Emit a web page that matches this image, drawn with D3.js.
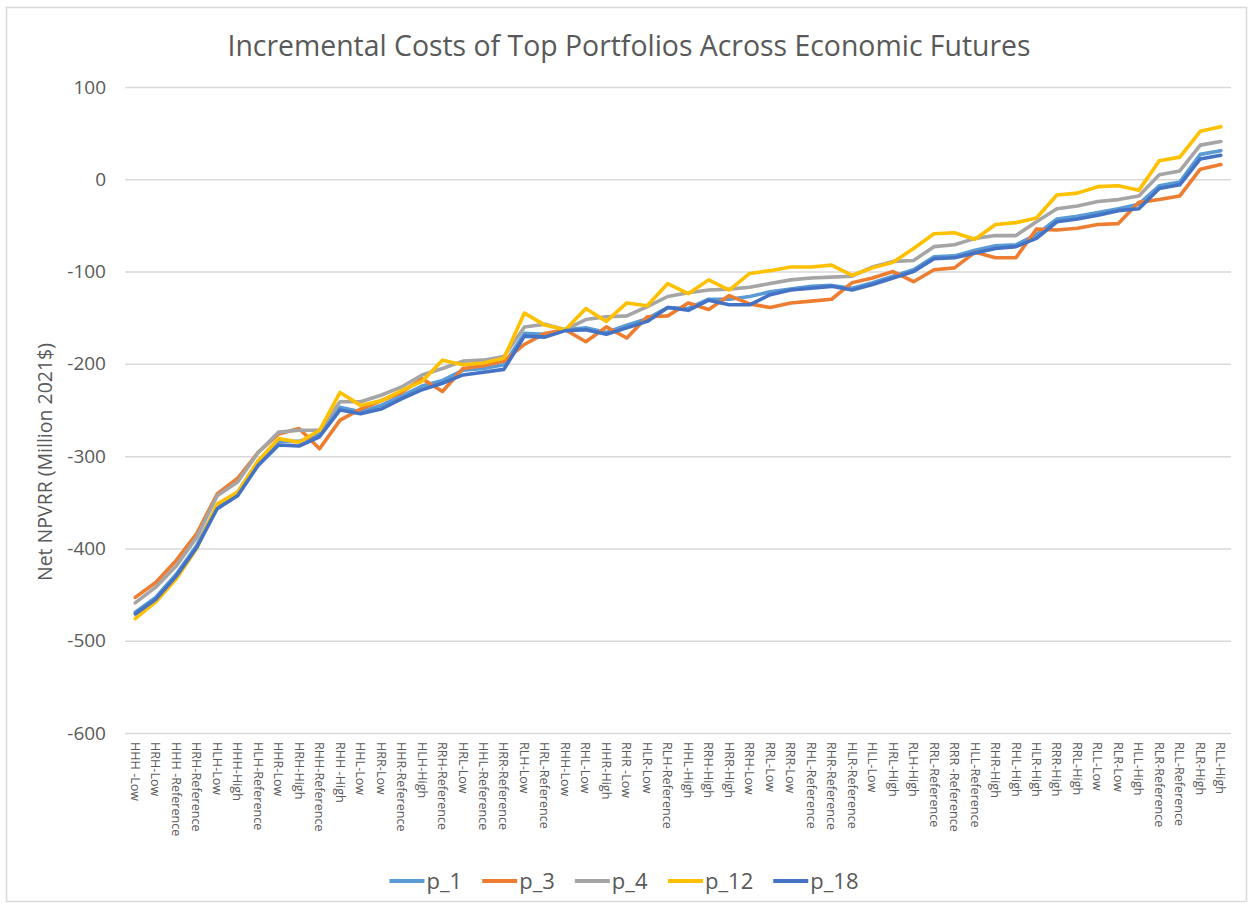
<!DOCTYPE html>
<html>
<head>
<meta charset="utf-8">
<script src="https://cdn.jsdelivr.net/npm/d3@7"></script>
<style>
  body { margin: 0; background: #fff; }
  text { font-family: "Open Sans", "Noto Sans", sans-serif; fill: #595959; }
</style>
</head>
<body>
<svg id="chart" width="1253" height="908"></svg>
<script>
// categories (economic futures), in chart order
var futures = [
    "HHH -Low", "HRH-Low", "HHH -Reference", "HRH-Reference", "HLH-Low", "HHH-High",
    "HLH-Reference", "HHR-Low", "HRH-High", "RHH-Reference", "RHH -High", "HHL-Low",
    "HRR-Low", "HHR-Reference", "HLH-High", "RRH-Reference", "HRL-Low", "HHL-Reference",
    "HRR-Reference", "RLH-Low", "HRL-Reference", "RHH-Low", "RHL-Low", "HHR-High",
    "RHR -Low", "HLR-Low", "RLH-Reference", "HHL-High", "RRH-High", "HRR-High",
    "RRH-Low", "RRL-Low", "RRR-Low", "RHL-Reference", "RHR-Reference", "HLR-Reference",
    "HLL-Low", "HRL-High", "RLH-High", "RRL-Reference", "RRR -Reference", "HLL-Reference",
    "RHR-High", "RHL-High", "HLR-High", "RRR-High", "RRL-High", "RLL-Low",
    "RLR-Low", "HLL-High", "RLR-Reference", "RLL-Reference", "RLR-High", "RLL-High"
];

var p1 = [-469, -453, -428, -397, -354, -339, -306, -284, -284, -276, -247, -252,
    -245, -235, -224, -218, -207, -205, -201, -167, -168, -163, -161, -166,
    -158, -151, -139, -140, -130, -130, -127, -122, -119, -116, -115, -118,
    -112, -105, -98, -84, -83, -77, -72, -71, -60, -43, -40, -36,
    -32, -27, -7, -3, 27, 31];

var p3 = [-453, -437, -413, -384, -341, -324, -296, -276, -270, -292, -261, -249,
    -240, -231, -216, -230, -205, -202, -197, -179, -167, -163, -176, -160,
    -172, -149, -148, -134, -141, -126, -135, -139, -134, -132, -130, -112,
    -107, -100, -111, -98, -96, -79, -85, -85, -54, -55, -53, -49,
    -48, -25, -22, -18, 11, 16];

var p4 = [-459, -442, -419, -388, -343, -328, -296, -274, -272, -272, -241, -241,
    -234, -225, -212, -205, -197, -196, -192, -160, -157, -163, -152, -149,
    -148, -138, -127, -123, -120, -119, -117, -113, -109, -107, -106, -105,
    -95, -89, -88, -73, -71, -64, -61, -61, -46, -32, -29, -24,
    -22, -18, 5, 9, 37, 41];

var p12 = [-476, -458, -433, -400, -352, -339, -305, -281, -285, -272, -231, -245,
    -240, -229, -219, -196, -201, -199, -194, -145, -158, -163, -140, -154,
    -134, -137, -113, -124, -109, -120, -102, -99, -95, -95, -93, -104,
    -96, -90, -75, -59, -58, -65, -49, -47, -42, -17, -15, -8,
    -7, -12, 20, 24, 52, 57];

var p18 = [-471, -455, -430, -399, -357, -343, -310, -288, -289, -279, -250, -254,
    -249, -238, -228, -221, -212, -209, -206, -170, -171, -164, -163, -168,
    -161, -154, -139, -142, -131, -136, -136, -125, -120, -118, -116, -120,
    -114, -107, -100, -86, -85, -80, -75, -73, -64, -46, -43, -39,
    -34, -32, -10, -6, 22, 26];

var seriesNames = ["p_1", "p_3", "p_4", "p_12", "p_18"];
var seriesValues = [p1, p3, p4, p12, p18];
var seriesColors = ["#5B9BD5", "#ED7D31", "#A5A5A5", "#FFC000", "#4472C4"];

var yTicks = [100, 0, -100, -200, -300, -400, -500, -600];

var svg = d3.select("#chart");

// chart area border
svg.append("rect")
    .attr("x", 6.5).attr("y", 7.5)
    .attr("width", 1240).attr("height", 894)
    .attr("fill", "none")
    .attr("stroke", "#d9d9d9")
    .attr("stroke-width", 1.5);

var plotLeft = 125, plotRight = 1231, plotTop = 87, plotBottom = 733;

var x = d3.scalePoint()
    .domain(futures)
    .range([plotLeft, plotRight])
    .padding(0.5);

var y = d3.scaleLinear()
    .domain([-600, 100])
    .range([plotBottom, plotTop]);

// gridlines + y tick labels (plain hyphen for negatives, like the original)
var yAxis = d3.axisLeft(y)
    .tickValues(yTicks)
    .tickFormat(function(d) { return String(d); })
    .tickSize(-(plotRight - plotLeft))
    .tickPadding(20);

var gy = svg.append("g")
    .attr("transform", "translate(" + plotLeft + ",0)")
    .call(yAxis);
gy.select(".domain").remove();
gy.selectAll(".tick line").attr("stroke", "#d9d9d9").attr("stroke-width", 1.5);
gy.selectAll(".tick text")
    .attr("x", -19)
    .style("font-size", "19px")
    .style("fill", "#595959")
    .style("font-family", "'Open Sans', sans-serif");

// category labels, rotated
var xLabels = svg.append("g");
xLabels.selectAll("text")
    .data(futures)
    .enter().append("text")
    .attr("transform", function(d) { return "translate(" + x(d) + ",742) rotate(90)"; })
    .attr("dy", "0.35em")
    .style("font-size", "12.6px")
    .text(function(d) { return d; });

// series lines
var line = d3.line()
    .x(function(d, i) { return x(futures[i]); })
    .y(function(d) { return y(d); });

svg.append("g").selectAll("path")
    .data(seriesValues)
    .enter().append("path")
    .attr("d", line)
    .attr("fill", "none")
    .attr("stroke", function(d, i) { return seriesColors[i]; })
    .attr("stroke-width", 3.6)
    .attr("stroke-linejoin", "round")
    .attr("stroke-linecap", "round");

// title
svg.append("text")
    .attr("x", 629).attr("y", 56)
    .attr("text-anchor", "middle")
    .style("font-size", "28.4px")
    .text("Incremental Costs of Top Portfolios Across Economic Futures");

// y axis title
svg.append("text")
    .attr("transform", "translate(52,462) rotate(-90)")
    .attr("text-anchor", "middle")
    .style("font-size", "19.5px")
    .text("Net NPVRR (Million 2021$)");

// legend
var legend = svg.append("g");
var items = legend.selectAll("g")
    .data(seriesNames)
    .enter().append("g");
items.append("line")
    .attr("x1", 0).attr("x2", 35)
    .attr("y1", 0).attr("y2", 0)
    .attr("stroke", function(d, i) { return seriesColors[i]; })
    .attr("stroke-width", 4);
items.append("text")
    .attr("x", 37).attr("dy", "0.35em")
    .style("font-size", "22px")
    .text(function(d) { return d; });

var offset = 0;
items.each(function() {
    var w = this.getBBox().width;
    d3.select(this).attr("transform", "translate(" + offset + ",0)");
    offset += w + 20;
});
var total = offset - 20;
legend.attr("transform", "translate(" + (624 - total / 2) + ",881)");
</script>
</body>
</html>
